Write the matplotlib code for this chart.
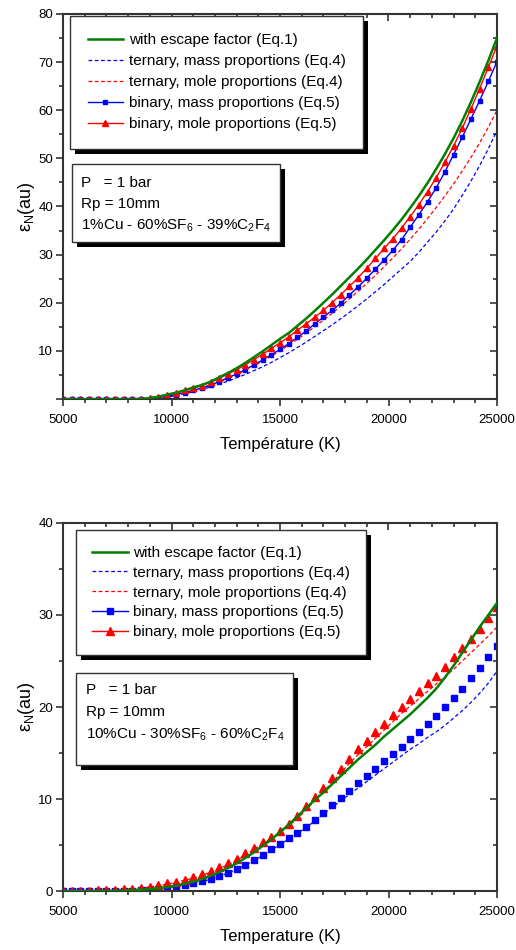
import numpy as np
import matplotlib
matplotlib.use('Agg')
import matplotlib.pyplot as plt
from matplotlib.patches import Rectangle
from matplotlib.lines import Line2D
from matplotlib.ticker import MultipleLocator, FuncFormatter
from matplotlib.transforms import IdentityTransform

plt.rcParams['font.family'] = ['Liberation Sans', 'DejaVu Sans']
plt.rcParams['mathtext.fontset'] = 'custom'
plt.rcParams['mathtext.rm'] = 'Liberation Sans'
plt.rcParams['mathtext.it'] = 'Liberation Sans:italic'
plt.rcParams['mathtext.bf'] = 'Liberation Sans:bold'

# temperature grid (K), one point every 400 K
temp = np.arange(5000, 25001, 400)

# top panel : 1%Cu - 60%SF6 - 39%C2F4
top_escape = [0, 0, 0, 0, 0, 0, 0, 0, 0, 0.02,
              0.2, 0.5, 0.9, 1.3, 1.8, 2.4, 2.9, 3.6, 4.5, 5.4,
              6.4, 7.5, 8.7, 9.9, 11.2, 12.5, 13.7, 15.2, 16.7, 18.3,
              20.0, 21.7, 23.5, 25.3, 27.1, 29.0, 31.0, 33.0, 35.1, 37.3,
              39.7, 42.2, 44.9, 47.8, 50.9, 54.2, 57.8, 61.7, 65.9, 70.3, 75.0]
top_tern_mass = [0, 0, 0, 0, 0, 0, 0, 0, 0, 0.01,
                 0.05, 0.15, 0.4, 0.7, 1.1, 1.5, 2.0, 2.5, 3.1, 3.7,
                 4.4, 5.1, 5.9, 6.7, 7.6, 8.6, 9.6, 10.7, 11.8, 13.0,
                 14.2, 15.4, 16.7, 18.0, 19.4, 20.8, 22.3, 23.8, 25.4, 27.0,
                 28.6, 30.5, 32.6, 34.7, 37.0, 39.5, 42.3, 45.3, 48.5, 52.0, 55.8]
top_tern_mole = [0, 0, 0, 0, 0, 0, 0, 0, 0, 0.01,
                 0.05, 0.2, 0.5, 0.9, 1.3, 1.8, 2.3, 2.9, 3.6, 4.3,
                 5.1, 6.0, 6.9, 7.9, 8.9, 10.0, 11.2, 12.4, 13.7, 15.0,
                 16.4, 17.8, 19.3, 20.8, 22.4, 24.0, 25.7, 27.5, 29.3, 31.2,
                 33.2, 35.3, 37.5, 39.8, 42.2, 44.7, 47.4, 50.2, 53.2, 56.5, 60.0]
top_bin_mass = [0, 0, 0, 0, 0, 0, 0, 0, 0, 0.02,
                0.1, 0.3, 0.6, 0.9, 1.3, 1.8, 2.3, 2.9, 3.6, 4.4,
                5.2, 6.1, 7.1, 8.1, 9.2, 10.3, 11.5, 12.8, 14.1, 15.6,
                17.0, 18.4, 19.9, 21.6, 23.3, 25.1, 27.0, 28.9, 30.9, 33.1,
                35.7, 38.3, 41.0, 43.9, 47.2, 50.8, 54.4, 58.2, 62.0, 66.0, 70.1]
top_bin_mole = [0, 0, 0, 0, 0, 0, 0, 0, 0, 0.05,
                0.2, 0.5, 0.9, 1.3, 1.8, 2.3, 2.8, 3.5, 4.3, 5.2,
                6.1, 7.1, 8.2, 9.3, 10.5, 11.7, 12.9, 14.3, 15.6, 17.0,
                18.4, 20.0, 21.7, 23.4, 25.2, 27.2, 29.2, 31.3, 33.3, 35.5,
                37.9, 40.4, 43.1, 46.0, 49.2, 52.6, 56.3, 60.3, 64.5, 68.9, 73.4]

# bottom panel : 10%Cu - 30%SF6 - 60%C2F4
bot_escape = [0, 0, 0, 0, 0, 0, 0.02, 0.05, 0.1, 0.15,
              0.22, 0.3, 0.42, 0.58, 0.78, 1.0, 1.3, 1.65, 2.05, 2.5,
              3.0, 3.6, 4.2, 4.9, 5.6, 6.4, 7.2, 8.1, 9.0, 9.9,
              10.7, 11.6, 12.5, 13.4, 14.3, 15.1, 15.9, 16.8, 17.6, 18.4,
              19.2, 20.1, 21.0, 22.0, 23.2, 24.5, 25.9, 27.3, 28.7, 30.0, 31.3]
bot_tern_mass = [0, 0, 0, 0, 0, 0.01, 0.02, 0.03, 0.04, 0.08,
                 0.13, 0.22, 0.34, 0.48, 0.64, 0.82, 1.02, 1.27, 1.57, 1.95,
                 2.35, 2.8, 3.3, 3.85, 4.45, 5.05, 5.65, 6.25, 6.9, 7.6,
                 8.35, 9.1, 9.8, 10.5, 11.2, 11.9, 12.6, 13.3, 14.0, 14.7,
                 15.4, 16.0, 16.7, 17.3, 18.0, 18.8, 19.6, 20.5, 21.5, 22.6, 23.9]
bot_tern_mole = [0, 0.02, 0.03, 0.05, 0.07, 0.09, 0.12, 0.17, 0.23, 0.32,
                 0.44, 0.58, 0.76, 0.95, 1.17, 1.4, 1.7, 2.05, 2.45, 2.85,
                 3.35, 3.9, 4.5, 5.1, 5.7, 6.35, 7.1, 7.85, 8.8, 9.8,
                 10.8, 11.8, 12.8, 13.9, 14.8, 15.7, 16.6, 17.5, 18.4, 19.3,
                 20.1, 20.9, 21.7, 22.5, 23.3, 24.1, 25.0, 25.9, 26.8, 27.7, 28.7]
bot_bin_mass = [0, 0, 0, 0, 0, 0.01, 0.02, 0.03, 0.05, 0.1,
                0.15, 0.25, 0.38, 0.52, 0.68, 0.85, 1.05, 1.3, 1.6, 2.0,
                2.4, 2.85, 3.4, 3.95, 4.55, 5.15, 5.75, 6.35, 7.0, 7.75,
                8.5, 9.3, 10.1, 10.9, 11.7, 12.5, 13.3, 14.1, 14.85, 15.7,
                16.5, 17.3, 18.1, 19.0, 20.0, 21.0, 22.0, 23.1, 24.2, 25.4, 26.6]
bot_bin_mole = [0, 0.02, 0.03, 0.05, 0.07, 0.1, 0.13, 0.18, 0.25, 0.35,
                0.48, 0.63, 0.82, 1.02, 1.25, 1.5, 1.8, 2.2, 2.6, 3.0,
                3.5, 4.1, 4.7, 5.3, 5.9, 6.5, 7.3, 8.1, 9.2, 10.2,
                11.2, 12.3, 13.3, 14.4, 15.4, 16.3, 17.3, 18.2, 19.1, 20.0,
                20.9, 21.7, 22.6, 23.4, 24.4, 25.4, 26.4, 27.4, 28.5, 29.7, 30.9]

labels = ['with escape factor (Eq.1)',
          'ternary, mass proportions (Eq.4)',
          'ternary, mole proportions (Eq.4)',
          'binary, mass proportions (Eq.5)',
          'binary, mole proportions (Eq.5)']

GREEN = '#008000'
AX_COLOR = '#333333'

fig = plt.figure(figsize=(5.16, 9.5), dpi=100)
ax1 = fig.add_axes([63 / 516, 1 - 399 / 950, 434 / 516, 385 / 950])
ax2 = fig.add_axes([63 / 516, 1 - 891 / 950, 434 / 516, 368 / 950])


def style_axes(ax, ymax, ymajor, hide_zero):
    ax.set_xlim(5000, 25000)
    ax.set_ylim(0, ymax)
    ax.set_xticks([5000, 10000, 15000, 20000, 25000])
    ax.xaxis.set_minor_locator(MultipleLocator(1000))
    ax.yaxis.set_major_locator(MultipleLocator(ymajor))
    ax.yaxis.set_minor_locator(MultipleLocator(ymajor / 2))
    if hide_zero:
        ax.yaxis.set_major_formatter(FuncFormatter(lambda v, p: '' if v == 0 else f'{v:g}'))
    ax.tick_params(which='both', direction='out', labelsize=9.5, color=AX_COLOR, width=1.2)
    ax.tick_params(which='major', length=5)
    ax.tick_params(which='minor', length=3)
    ax.tick_params(axis='x', pad=6)
    ax.tick_params(axis='y', pad=2)
    for s in ax.spines.values():
        s.set_color(AX_COLOR)
        s.set_linewidth(1.5)
    # inward ticks on top and right side
    secx = ax.secondary_xaxis('top')
    secx.set_xticks([5000, 10000, 15000, 20000, 25000])
    secx.xaxis.set_minor_locator(MultipleLocator(1000))
    secx.tick_params(which='both', direction='in', labeltop=False, color=AX_COLOR, width=1.2)
    secx.tick_params(which='major', length=5)
    secx.tick_params(which='minor', length=3)
    secx.spines['top'].set_visible(False)
    secy = ax.secondary_yaxis('right')
    secy.yaxis.set_major_locator(MultipleLocator(ymajor))
    secy.yaxis.set_minor_locator(MultipleLocator(ymajor / 2))
    secy.tick_params(which='both', direction='in', labelright=False, color=AX_COLOR, width=1.2)
    secy.tick_params(which='major', length=5)
    secy.tick_params(which='minor', length=3)
    secy.spines['right'].set_visible(False)
    ax.set_ylabel(r'$\mathregular{ε_N}$(au)', fontsize=13, labelpad=1)


def text_box(ax, x0, y0, x1, y1, lines, ys, xt):
    # white box with a black drop shadow, like the original software
    w_px = ax.get_window_extent().width
    h_px = ax.get_window_extent().height
    ax.add_patch(Rectangle((x0 + 5 / w_px, y0 - 5 / h_px), x1 - x0, y1 - y0,
                           transform=ax.transAxes, facecolor='black',
                           edgecolor='none', zorder=4, clip_on=False))
    ax.add_patch(Rectangle((x0, y0), x1 - x0, y1 - y0, transform=ax.transAxes,
                           facecolor='white', edgecolor=AX_COLOR, lw=1,
                           zorder=4.5, clip_on=False))
    for s, y in zip(lines, ys):
        ax.text(xt, y, s, transform=ax.transAxes, fontsize=11,
                va='center', ha='left', zorder=5)


def legend_shadow(ax, leg):
    fig.canvas.draw()
    bb = leg.get_frame().get_window_extent()
    ax.add_artist(Rectangle((bb.x0 + 5, bb.y0 - 5), bb.width, bb.height,
                            transform=IdentityTransform(), facecolor='black',
                            edgecolor='none', zorder=4.9, clip_on=False))


# ---- top panel ----
ax1.plot(temp, top_escape, color=GREEN, lw=1.8, zorder=3)
ax1.plot(temp, top_tern_mass, color='blue', lw=0.9, ls=(0, (3, 2)))
ax1.plot(temp, top_tern_mole, color='red', lw=0.9, ls=(0, (3, 2)))
ax1.plot(temp, top_bin_mass, color='blue', lw=1, marker='s', ms=3.5)
ax1.plot(temp, top_bin_mole, color='red', lw=1, marker='^', ms=5)
style_axes(ax1, 80, 10, True)
ax1.set_xlabel('Température (K)', fontsize=12, labelpad=8)

h_top = [Line2D([], [], color=GREEN, lw=1.8),
         Line2D([], [], color='blue', lw=0.9, ls=(0, (3, 2))),
         Line2D([], [], color='red', lw=0.9, ls=(0, (3, 2))),
         Line2D([], [], color='blue', lw=1, marker='s', ms=3.5),
         Line2D([], [], color='red', lw=1, marker='^', ms=5)]
leg1 = ax1.legend(h_top, labels, loc='upper left', bbox_to_anchor=(0.016, 0.995),
                  borderaxespad=0, fontsize=11, frameon=True, fancybox=False,
                  edgecolor=AX_COLOR, framealpha=1, handlelength=2.35,
                  handletextpad=0.35, labelspacing=0.45, borderpad=1.15)
leg1.get_frame().set_linewidth(1)
leg1.set_zorder(5)

text_box(ax1, 0.021, 0.408, 0.50, 0.610,
         ['P   = 1 bar', 'Rp = 10mm', '1%Cu - 60%SF$_6$ - 39%C$_2$F$_4$'],
         [0.561, 0.506, 0.449], 0.041)

# ---- bottom panel ----
ax2.plot(temp, bot_escape, color=GREEN, lw=1.8, zorder=3)
ax2.plot(temp, bot_tern_mass, color='blue', lw=0.9, ls=(0, (3, 2)))
ax2.plot(temp, bot_tern_mole, color='red', lw=0.9, ls=(0, (3, 2)))
ax2.plot(temp, bot_bin_mass, color='blue', ls='none', marker='s', ms=4.5)
ax2.plot(temp, bot_bin_mole, color='red', ls='none', marker='^', ms=6)
style_axes(ax2, 40, 10, False)
ax2.set_xlabel('Temperature (K)', fontsize=12, labelpad=8)

h_bot = [Line2D([], [], color=GREEN, lw=1.8),
         Line2D([], [], color='blue', lw=0.9, ls=(0, (3, 2))),
         Line2D([], [], color='red', lw=0.9, ls=(0, (3, 2))),
         Line2D([], [], color='blue', lw=1, marker='s', ms=4.5),
         Line2D([], [], color='red', lw=1, marker='^', ms=6)]
leg2 = ax2.legend(h_bot, labels, loc='upper left', bbox_to_anchor=(0.030, 0.981),
                  borderaxespad=0, fontsize=11, frameon=True, fancybox=False,
                  edgecolor=AX_COLOR, framealpha=1, handlelength=2.35,
                  handletextpad=0.35, labelspacing=0.38, borderpad=1.05)
leg2.get_frame().set_linewidth(1)
leg2.set_zorder(5)

text_box(ax2, 0.030, 0.342, 0.530, 0.592,
         ['P   = 1 bar', 'Rp = 10mm', '10%Cu - 30%SF$_6$ - 60%C$_2$F$_4$'],
         [0.546, 0.486, 0.424], 0.053)

legend_shadow(ax1, leg1)
legend_shadow(ax2, leg2)

fig.savefig('out.png', dpi=100)
